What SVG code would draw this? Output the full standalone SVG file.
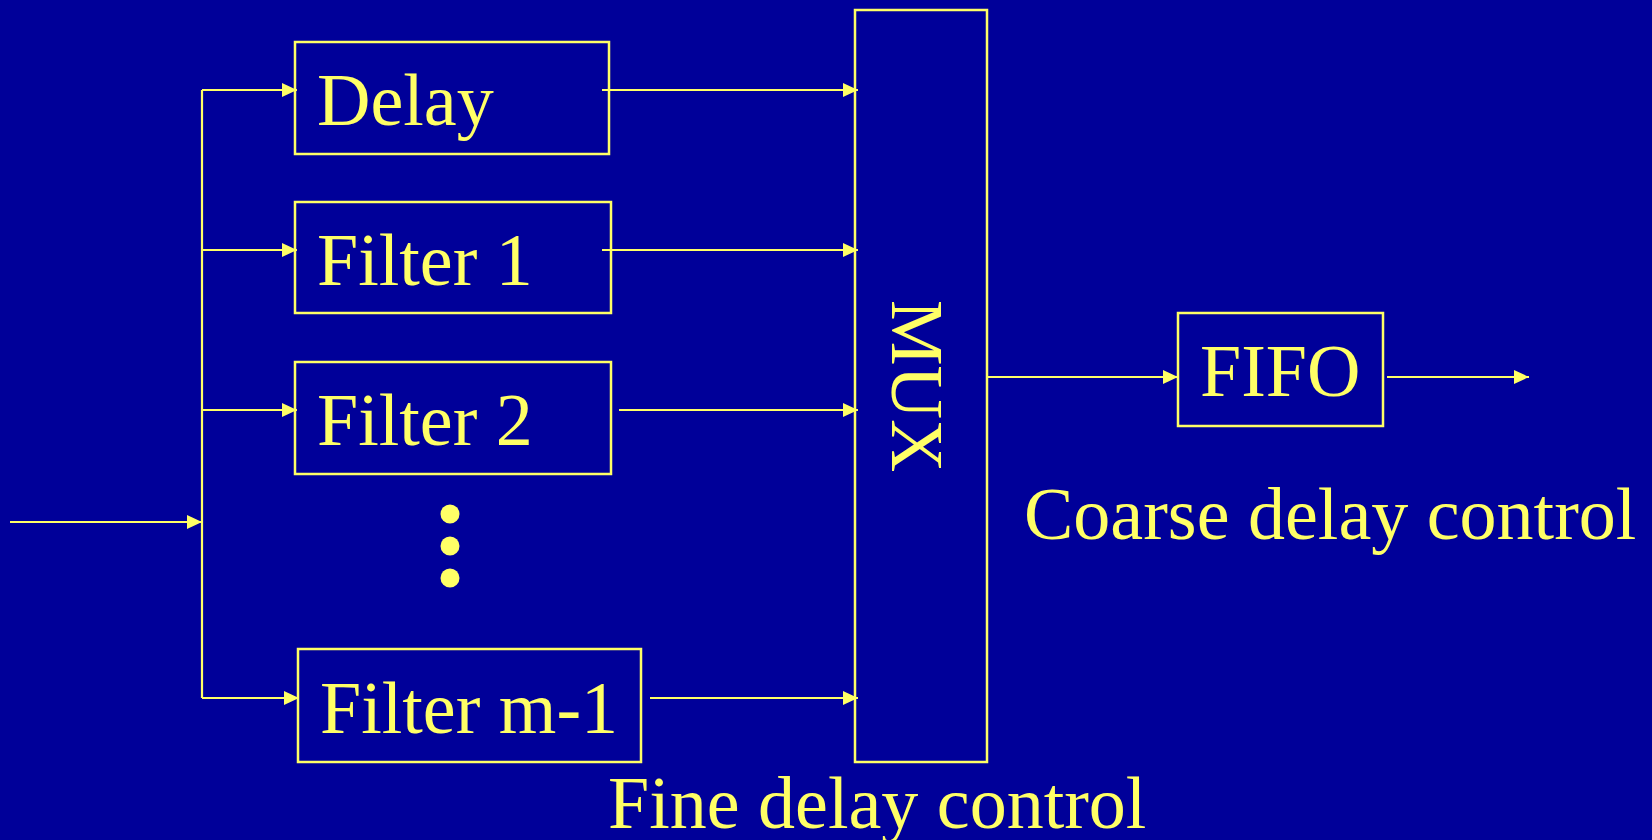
<svg xmlns="http://www.w3.org/2000/svg" width="1652" height="840" viewBox="0 0 1652 840">
<defs>
<style>
.box{fill:none;stroke:#FFFF66;stroke-width:2.5}
.ln{fill:none;stroke:#FFFF66;stroke-width:2.2}
.ar{marker-end:url(#ah)}
text{font-family:"Liberation Serif","Times New Roman",serif;font-size:74px;fill:#FFFF66}
</style>
<marker id="ah" markerUnits="userSpaceOnUse" markerWidth="16" markerHeight="14" refX="15" refY="7" orient="auto">
<path d="M0,0 L15,7 L0,14 z" fill="#FFFF66"/>
</marker>
</defs>
<rect x="0" y="0" width="1652" height="840" fill="#000099"/>
<g id="delay"><rect class="box" x="295" y="42" width="314" height="112"/><text x="317" y="125">Delay</text></g>
<g id="filter1"><rect class="box" x="295" y="202" width="316" height="111"/><text x="317" y="285">Filter 1</text></g>
<g id="filter2"><rect class="box" x="295" y="362" width="316" height="112"/><text x="317" y="445">Filter 2</text></g>
<g id="dots"><circle cx="450" cy="514" r="9.5" fill="#FFFF66"/><circle cx="450" cy="546" r="9.5" fill="#FFFF66"/><circle cx="450" cy="578" r="9.5" fill="#FFFF66"/></g>
<g id="filterm1"><rect class="box" x="298" y="649" width="343" height="113"/><text x="320" y="733">Filter m-1</text></g>
<g id="mux"><rect class="box" x="855" y="10" width="132" height="752"/><text transform="translate(892,386) rotate(90)" text-anchor="middle">MUX</text></g>
<g id="fifo"><rect class="box" x="1178" y="313" width="205" height="113"/><text x="1200" y="396">FIFO</text></g>
<g id="labels"><text x="1024" y="539">Coarse delay control</text><text x="608" y="828">Fine delay control</text></g>
<g id="connectors">
<path class="ln" d="M202,90 V698"/>
<path class="ln ar" d="M10,522 H202"/>
<path class="ln ar" d="M202,90 H297"/>
<path class="ln ar" d="M202,250 H297"/>
<path class="ln ar" d="M202,410 H297"/>
<path class="ln ar" d="M202,698 H299"/>
<path class="ln ar" d="M602,90 H858"/>
<path class="ln ar" d="M602,250 H858"/>
<path class="ln ar" d="M619,410 H858"/>
<path class="ln ar" d="M650,698 H858"/>
<path class="ln ar" d="M987,377 H1178"/>
<path class="ln ar" d="M1387,377 H1529"/>
</g>
</svg>
